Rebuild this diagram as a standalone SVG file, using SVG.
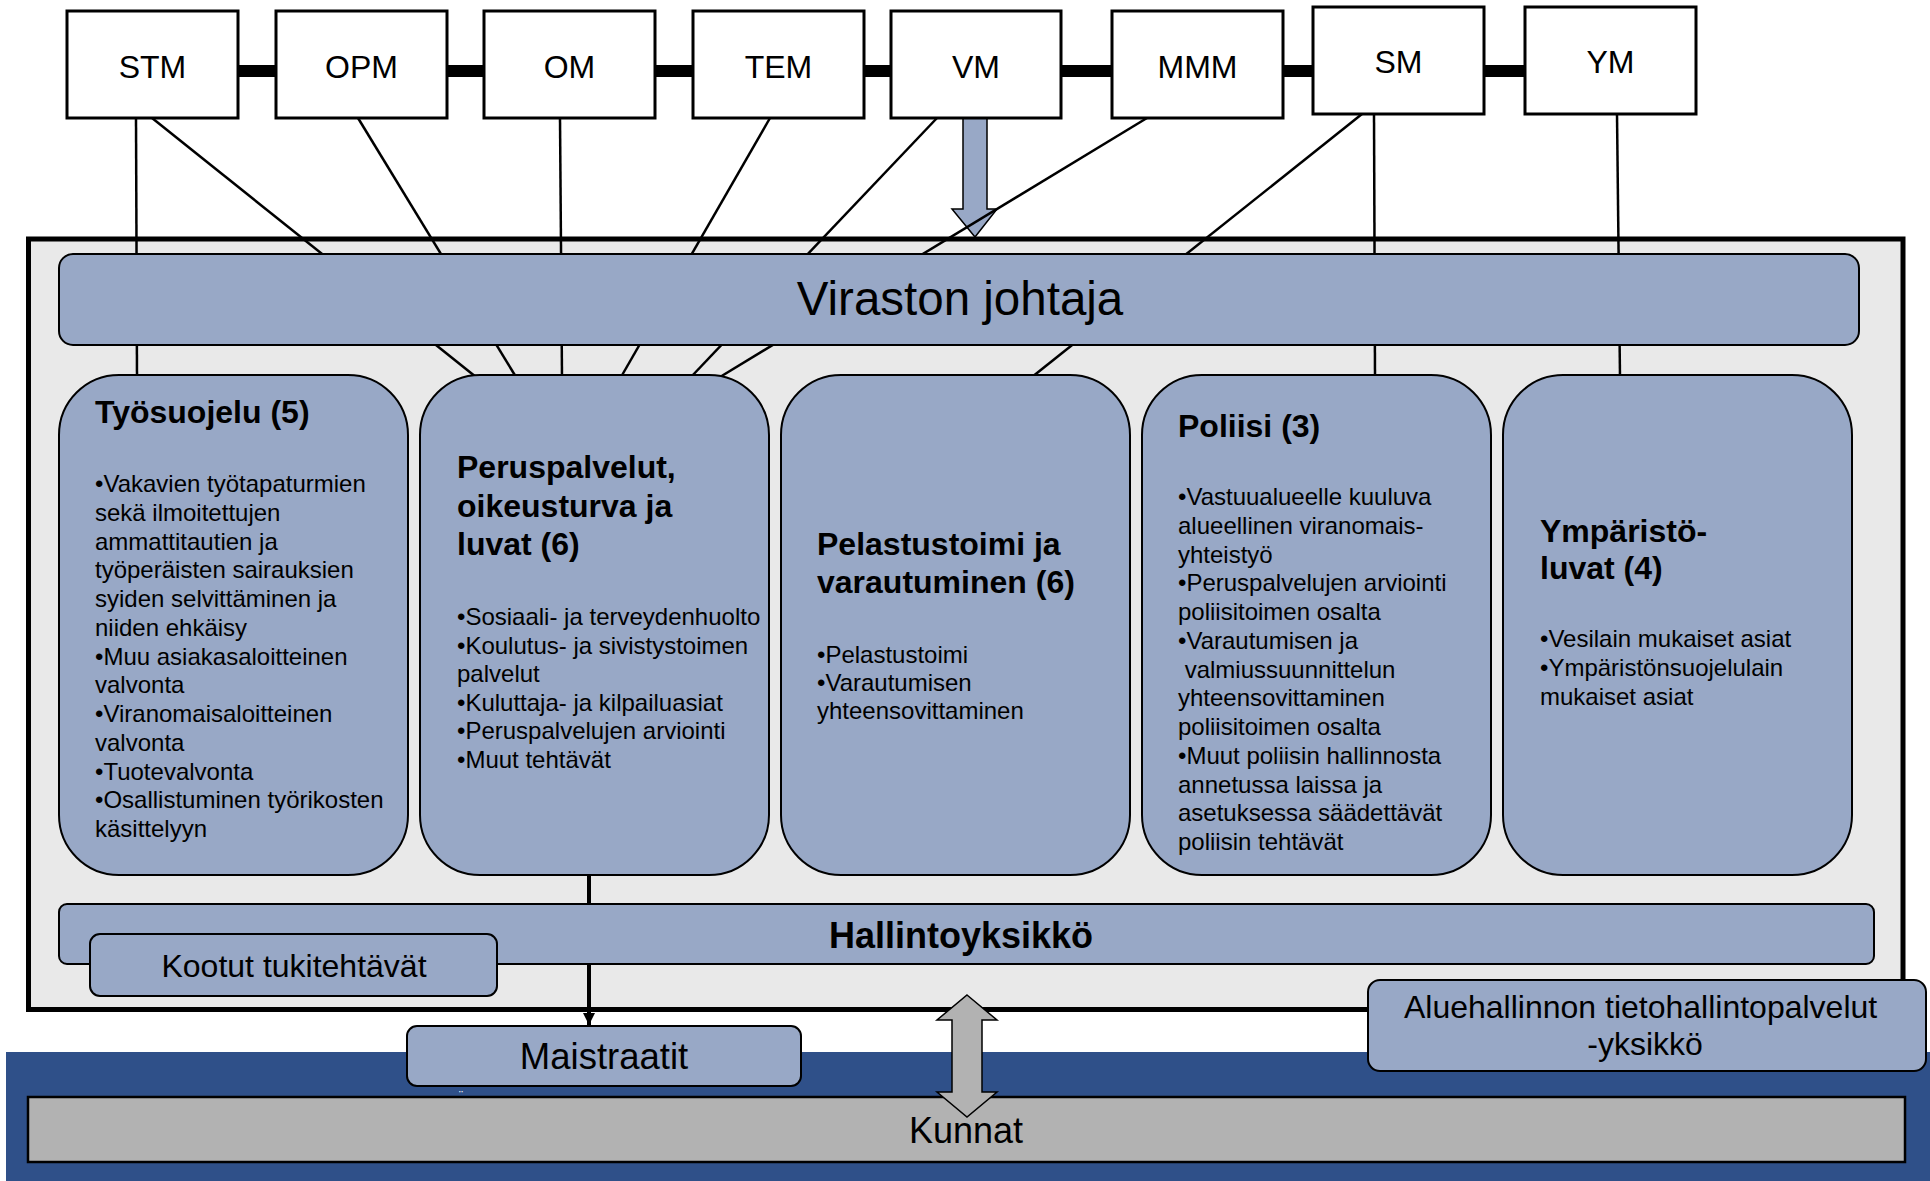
<svg xmlns="http://www.w3.org/2000/svg" width="1930" height="1181" viewBox="0 0 1930 1181">
<defs>
<style>
.mbox{fill:#ffffff;stroke:#000;stroke-width:3}
.unit{fill:#98a8c6;stroke:#000;stroke-width:2}
.ln{stroke:#000;stroke-width:2.5;fill:none}
.t{font-family:"Liberation Sans",Arial,sans-serif;fill:#000}
.b{font-weight:bold}
.ms{font-size:32px;text-anchor:middle}
.tt{font-size:32px;font-weight:bold}
.bl{font-size:24px}
</style>
<marker id="ah" markerUnits="userSpaceOnUse" markerWidth="14" markerHeight="14" refX="12" refY="6" orient="auto">
<path d="M0,0 L12,6 L0,12 Z" fill="#000"/>
</marker>
</defs>
<rect x="0" y="0" width="1930" height="1181" fill="#ffffff"/>
<rect x="6" y="1052" width="1924" height="129" fill="#2f5089"/>
<text class="t" x="459" y="1100" font-size="12" style="fill:#fff">¨</text>
<g id="kunnat">
<rect x="28" y="1097" width="1877" height="65" fill="#b2b2b2" stroke="#000" stroke-width="2.5"/>
<text class="t" x="966" y="1143" font-size="36" text-anchor="middle">Kunnat</text>
</g>
<g id="virasto">
<rect x="28.5" y="239" width="1874.5" height="770.5" fill="#e9e9e9" stroke="#000" stroke-width="5"/>
</g>
<g id="connectors">
<line x1="150" y1="71" x2="1610" y2="71" stroke="#000" stroke-width="12"/>
<path d="M963,117 L987,117 L987,209 L997,209 L975,237 L952,209 L963,209 Z" fill="#98a8c6" stroke="#000" stroke-width="1.5"/>
<line class="ln" x1="136" y1="118" x2="137" y2="377"/>
<line class="ln" x1="152" y1="118" x2="476" y2="377"/>
<line class="ln" x1="358" y1="118" x2="516" y2="377"/>
<line class="ln" x1="560" y1="118" x2="562" y2="377"/>
<line class="ln" x1="770" y1="118" x2="621" y2="377"/>
<line class="ln" x1="937" y1="118" x2="691" y2="377"/>
<line class="ln" x1="1147" y1="118" x2="720" y2="377"/>
<line class="ln" x1="1362" y1="114" x2="1032" y2="377"/>
<line class="ln" x1="1374" y1="114" x2="1375" y2="377"/>
<line class="ln" x1="1617" y1="114" x2="1620" y2="377"/>
<line x1="589" y1="874" x2="589" y2="1025" stroke="#000" stroke-width="4" marker-end="url(#ah)"/>
<path d="M967,995 L997,1020 L982,1020 L982,1092 L997,1092 L967,1117 L937,1092 L952,1092 L952,1020 L937,1020 Z" fill="#b2b2b2" stroke="#000" stroke-width="1.5"/>
</g>
<g id="stm"><rect class="mbox" x="67" y="11" width="171" height="107"/><text class="t ms" x="152.5" y="78">STM</text></g>
<g id="opm"><rect class="mbox" x="276" y="11" width="171" height="107"/><text class="t ms" x="361.5" y="78">OPM</text></g>
<g id="om"><rect class="mbox" x="484" y="11" width="171" height="107"/><text class="t ms" x="569.5" y="78">OM</text></g>
<g id="tem"><rect class="mbox" x="693" y="11" width="171" height="107"/><text class="t ms" x="778.5" y="78">TEM</text></g>
<g id="vm"><rect class="mbox" x="891" y="11" width="170" height="107"/><text class="t ms" x="976" y="78">VM</text></g>
<g id="mmm"><rect class="mbox" x="1112" y="11" width="171" height="107"/><text class="t ms" x="1197.5" y="78">MMM</text></g>
<g id="sm"><rect class="mbox" x="1313" y="7" width="171" height="107"/><text class="t ms" x="1398.5" y="73">SM</text></g>
<g id="ym"><rect class="mbox" x="1525" y="7" width="171" height="107"/><text class="t ms" x="1610.5" y="73">YM</text></g>
<g id="johtaja">
<rect class="unit" x="59" y="254" width="1800" height="91" rx="14"/>
<text class="t" x="960" y="315" font-size="47.5" text-anchor="middle">Viraston johtaja</text>
</g>
<g id="tyosuojelu">
<rect class="unit" x="59" y="375" width="349" height="500" rx="60"/>
<text class="t tt" x="95" y="423">Työsuojelu (5)</text>
<text class="t bl">
<tspan x="95" y="492">•Vakavien työtapaturmien</tspan>
<tspan x="95" y="520.75">sekä ilmoitettujen</tspan>
<tspan x="95" y="549.5">ammattitautien ja</tspan>
<tspan x="95" y="578.25">työperäisten sairauksien</tspan>
<tspan x="95" y="607">syiden selvittäminen ja</tspan>
<tspan x="95" y="635.75">niiden ehkäisy</tspan>
<tspan x="95" y="664.5">•Muu asiakasaloitteinen</tspan>
<tspan x="95" y="693.25">valvonta</tspan>
<tspan x="95" y="722">•Viranomaisaloitteinen</tspan>
<tspan x="95" y="750.75">valvonta</tspan>
<tspan x="95" y="779.5">•Tuotevalvonta</tspan>
<tspan x="95" y="808.25">•Osallistuminen työrikosten</tspan>
<tspan x="95" y="837">käsittelyyn</tspan>
</text>
</g>
<g id="peruspalvelut">
<rect class="unit" x="420" y="375" width="349" height="500" rx="60"/>
<text class="t tt">
<tspan x="457" y="478">Peruspalvelut,</tspan>
<tspan x="457" y="516.5">oikeusturva ja</tspan>
<tspan x="457" y="555">luvat (6)</tspan>
</text>
<text class="t bl">
<tspan x="457" y="625">•Sosiaali- ja terveydenhuolto</tspan>
<tspan x="457" y="653.6">•Koulutus- ja sivistystoimen</tspan>
<tspan x="457" y="682.2">palvelut</tspan>
<tspan x="457" y="710.8">•Kuluttaja- ja kilpailuasiat</tspan>
<tspan x="457" y="739.4">•Peruspalvelujen arviointi</tspan>
<tspan x="457" y="768">•Muut tehtävät</tspan>
</text>
</g>
<g id="pelastustoimi">
<rect class="unit" x="781" y="375" width="349" height="500" rx="60"/>
<text class="t tt">
<tspan x="817" y="555">Pelastustoimi ja</tspan>
<tspan x="817" y="593">varautuminen (6)</tspan>
</text>
<text class="t bl">
<tspan x="817" y="663">•Pelastustoimi</tspan>
<tspan x="817" y="691">•Varautumisen</tspan>
<tspan x="817" y="719">yhteensovittaminen</tspan>
</text>
</g>
<g id="poliisi">
<rect class="unit" x="1142" y="375" width="349" height="500" rx="60"/>
<text class="t tt" x="1178" y="437">Poliisi (3)</text>
<text class="t bl">
<tspan x="1178" y="505">•Vastuualueelle kuuluva</tspan>
<tspan x="1178" y="533.75">alueellinen viranomais-</tspan>
<tspan x="1178" y="562.5">yhteistyö</tspan>
<tspan x="1178" y="591.25">•Peruspalvelujen arviointi</tspan>
<tspan x="1178" y="620">poliisitoimen osalta</tspan>
<tspan x="1178" y="648.75">•Varautumisen ja</tspan>
</text>
<text class="t bl" xml:space="preserve" x="1178" y="677.5"> valmiussuunnittelun</text>
<text class="t bl">
<tspan x="1178" y="706.25">yhteensovittaminen</tspan>
<tspan x="1178" y="735">poliisitoimen osalta</tspan>
<tspan x="1178" y="763.75">•Muut poliisin hallinnosta</tspan>
<tspan x="1178" y="792.5">annetussa laissa ja</tspan>
<tspan x="1178" y="821.25">asetuksessa säädettävät</tspan>
<tspan x="1178" y="850">poliisin tehtävät</tspan>
</text>
</g>
<g id="ymparistoluvat">
<rect class="unit" x="1503" y="375" width="349" height="500" rx="60"/>
<text class="t tt">
<tspan x="1540" y="542">Ympäristö-</tspan>
<tspan x="1540" y="579">luvat (4)</tspan>
</text>
<text class="t bl">
<tspan x="1540" y="647">•Vesilain mukaiset asiat</tspan>
<tspan x="1540" y="676">•Ympäristönsuojelulain</tspan>
<tspan x="1540" y="705">mukaiset asiat</tspan>
</text>
</g>
<g id="hallintoyksikko">
<rect class="unit" x="59" y="904" width="1815" height="60" rx="8"/>
<text class="t b" x="961" y="948" font-size="36" text-anchor="middle">Hallintoyksikkö</text>
</g>
<g id="kootut">
<rect class="unit" x="90" y="934" width="407" height="62" rx="10"/>
<text class="t" x="294" y="977" font-size="32" text-anchor="middle">Kootut tukitehtävät</text>
</g>
<g id="maistraatit">
<rect class="unit" x="407" y="1026" width="394" height="60" rx="10"/>
<text class="t" x="604" y="1069" font-size="36.5" text-anchor="middle">Maistraatit</text>
</g>
<g id="tietohallinto">
<rect class="unit" x="1368" y="980" width="558" height="91" rx="12"/>
<text class="t" font-size="32" text-anchor="middle">
<tspan x="1645" y="1018">Aluehallinnon tietohallintopalvelut</tspan>
<tspan x="1645" y="1055">-yksikkö</tspan>
</text>
</g>
</svg>
